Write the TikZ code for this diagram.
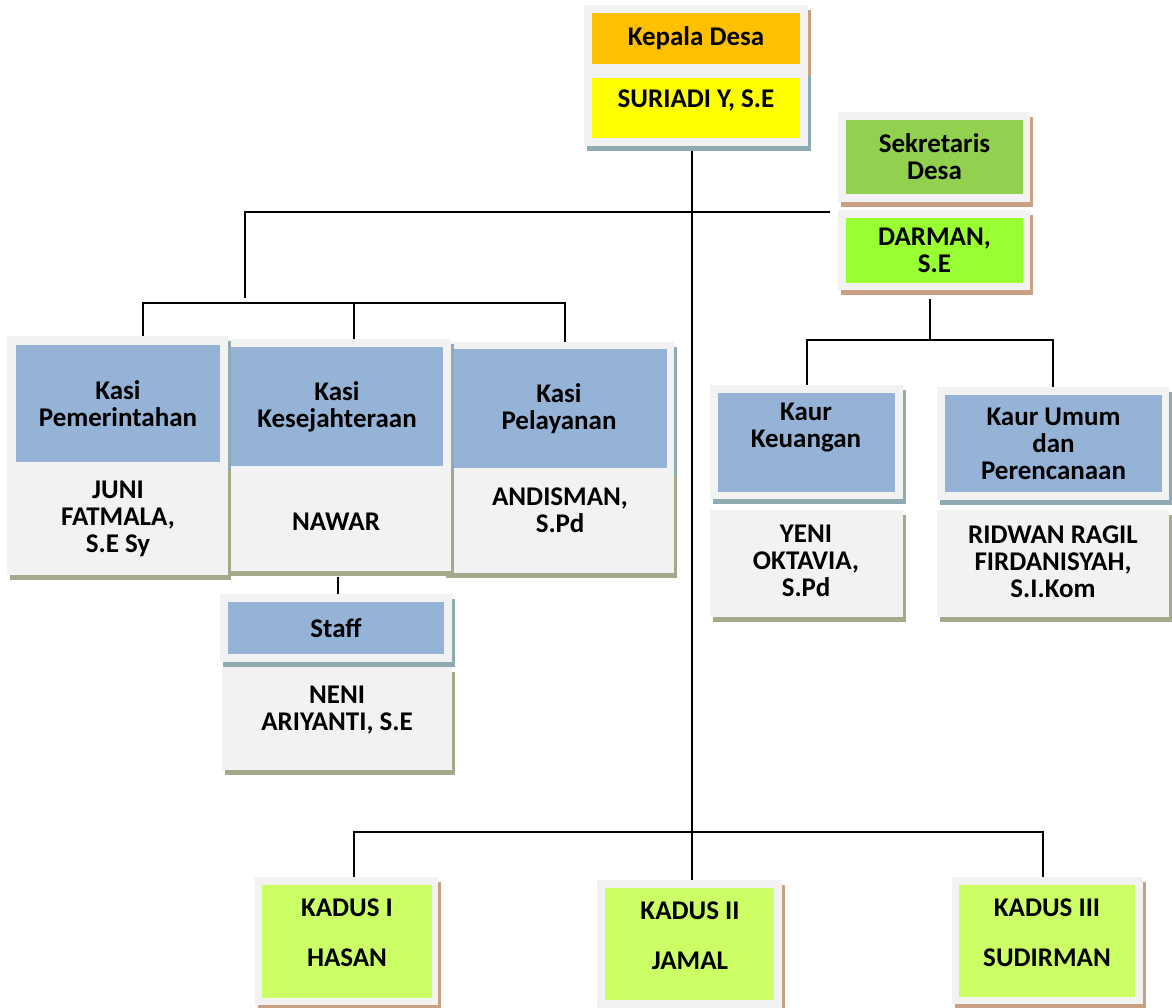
\documentclass[tikz,border=0pt]{standalone}
\usepackage{fontspec}
\setmainfont{Carlito}
\usepackage{tikz}
\usetikzlibrary{positioning, shadows, calc}
\definecolor{cardgray}{HTML}{F2F2F2}
\definecolor{korange}{HTML}{FFC000}
\definecolor{kyellow}{HTML}{FFFF00}
\definecolor{sekgreen}{HTML}{92D050}
\definecolor{darmgreen}{HTML}{99FF33}
\definecolor{kasiblue}{HTML}{95B3D7}
\definecolor{kadusgreen}{HTML}{CCFF66}
\definecolor{shtan}{HTML}{C9A182}
\definecolor{shblue}{HTML}{8FAAB0}
\definecolor{sholive}{HTML}{A3AA8C}
\tikzset{
  card/.style 2 args={fill=cardgray, inner sep=0pt, anchor=north west,
                      minimum width=#1, minimum height=#2},
  tanshade/.style={general shadow={shadow xshift=3pt, shadow yshift=-5pt, fill=shtan}},
  blueshade/.style={general shadow={shadow xshift=3pt, shadow yshift=-5pt, fill=shblue}},
  oliveshade/.style={general shadow={shadow xshift=3pt, shadow yshift=-5pt, fill=sholive}},
  colbox/.style 2 args={inner sep=0pt, align=center, minimum width=#1, minimum height=#2},
  txt/.style={inner sep=0pt, align=center},
  link/.style={line width=1.7pt, black},
}

\begin{document}
\begin{tikzpicture}[x=1pt, y=-1pt,
    every node/.style={font=\bfseries\fontsize{27}{27}\selectfont}]
  \useasboundingbox (0,0) rectangle (1172,1007);

  % kepala desa
  \node[card={224pt}{66pt}, tanshade] (kdHead) at (584,5) {};
  \node[card={224pt}{75pt}, blueshade] (kdName) at (584,71) {};
  \node[colbox={208pt}{51pt}, fill=korange] (kepala) at (696,38.5) {Kepala Desa};
  \node[colbox={208pt}{60pt}, fill=kyellow] (suriadiBox) at (696,108) {};
  \node[txt] (suriadi) at (696,100) {SURIADI Y, S.E};

  % sekretaris
  \node[card={192pt}{90pt}, tanshade] (sekCard) at (838,112) {};
  \node[colbox={177pt}{74pt}, fill=sekgreen] (sekretaris) at (934.5,157) {Sekretaris\\Desa};
  \node[card={192pt}{80pt}, tanshade] (darmanCard) at (838,210) {};
  \node[colbox={177pt}{65pt}, fill=darmgreen] (darman) at (934.5,250.5) {DARMAN,\\S.E};

  % kasi (drawn right to left)
  \node[card={231pt}{128pt}, blueshade] (kasiCHead) at (443,342) {};
  \node[card={231pt}{103pt}, oliveshade] (kasiCName) at (443,470) {};
  \node[colbox={216pt}{119pt}, fill=kasiblue] (kasiC) at (559,408.5) {Kasi\\Pelayanan};
  \node[txt] (andisman) at (560,510) {ANDISMAN,\\S.Pd};

  \node[card={228pt}{127pt}, blueshade] (kasiBHead) at (223,339) {};
  \node[card={228pt}{105pt}, oliveshade] (kasiBName) at (223,466) {};
  \node[colbox={212pt}{119pt}, fill=kasiblue] (kasiB) at (337,406.5) {Kasi\\Kesejahteraan};
  \node[txt] (nawar) at (336,522) {NAWAR};

  \node[card={221pt}{129pt}, blueshade] (kasiAHead) at (7,336) {};
  \node[card={221pt}{110pt}, oliveshade] (kasiAName) at (7,465) {};
  \node[colbox={204pt}{117pt}, fill=kasiblue] (kasiA) at (118,403.5) {Kasi\\Pemerintahan};
  \node[txt] (juni) at (118,519) {JUNI\\FATMALA,\\S.E Sy};

  % staff
  \node[card={232pt}{68pt}, blueshade] (staffHead) at (220,594) {};
  \node[card={230pt}{103pt}, oliveshade] (staffName) at (222,667) {};
  \node[colbox={216pt}{52pt}, fill=kasiblue] (staff) at (336,628) {Staff};
  \node[txt] (neni) at (337,710) {NENI\\ARIYANTI, S.E};

  % kaur
  \node[card={193pt}{114pt}, blueshade] (kaurAHead) at (710,385) {};
  \node[colbox={177pt}{99pt}, fill=kasiblue] (kaurABox) at (806.5,442.5) {};
  \node[txt] (kaurA) at (806,428) {Kaur\\Keuangan};
  \node[card={193pt}{107pt}, oliveshade] (kaurAName) at (710,510) {};
  \node[txt] (yeni) at (806,561) {YENI\\OKTAVIA,\\S.Pd};

  \node[card={232pt}{113pt}, blueshade] (kaurBHead) at (937,387) {};
  \node[colbox={217pt}{97pt}, fill=kasiblue] (kaurB) at (1053.5,443.5) {Kaur Umum\\dan\\Perencanaan};
  \node[card={232pt}{107pt}, oliveshade] (kaurBName) at (937,510) {};
  \node[txt] (ridwan) at (1053,562) {RIDWAN RAGIL\\FIRDANISYAH,\\S.I.Kom};

  % kadus
  \node[card={183pt}{128pt}, tanshade] (kadusA) at (255,877) {};
  \node[colbox={170pt}{113pt}, fill=kadusgreen] (kadusABox) at (347,941.5) {};
  \node[txt] (hasan) at (347,933) {KADUS I\\[23pt]HASAN};
  \node[card={185pt}{135pt}, tanshade] (kadusB) at (597,880) {};
  \node[colbox={169pt}{112pt}, fill=kadusgreen] (kadusBBox) at (689.5,944) {};
  \node[txt] (jamal) at (690,936) {KADUS II\\[23pt]JAMAL};
  \node[card={191pt}{127pt}, tanshade] (kadusC) at (952,877) {};
  \node[colbox={176pt}{112pt}, fill=kadusgreen] (kadusCBox) at (1047,941) {};
  \node[txt] (sudirman) at (1047,933) {KADUS III\\[23pt]SUDIRMAN};

  \coordinate (sekL) at (830,212);
  \coordinate (kasiHub) at (245,298);

  % lines
  \draw[link] ([xshift=-4pt,yshift=-5pt]kdName.south) -- ([xshift=2.5pt]kadusB.north);
  \draw[link] ([xshift=7.5pt]kadusA.north) -- ++(0,-45) -| ([xshift=-4.5pt]kadusC.north);
  \draw[link] (sekL) -| (kasiHub);
  \draw[link] ([xshift=25.5pt]kasiAHead.north) -- ++(0,-33) -| ([xshift=6.5pt]kasiCHead.north);
  \draw[link] ([xshift=17pt]kasiBHead.north) -- ++(0,-36);
  \draw[link] ([xshift=1pt,yshift=-6pt]kasiBName.south) -- ([xshift=1pt]kasiBName.south |- staffHead.north);
  \draw[link] ([xshift=-4pt,yshift=-9pt]darmanCard.south) -- ++(0,41);
  \draw[link] (kaurAHead.north) -- ++(0,-45) -| (kaurBHead.north);
\end{tikzpicture}
\end{document}
